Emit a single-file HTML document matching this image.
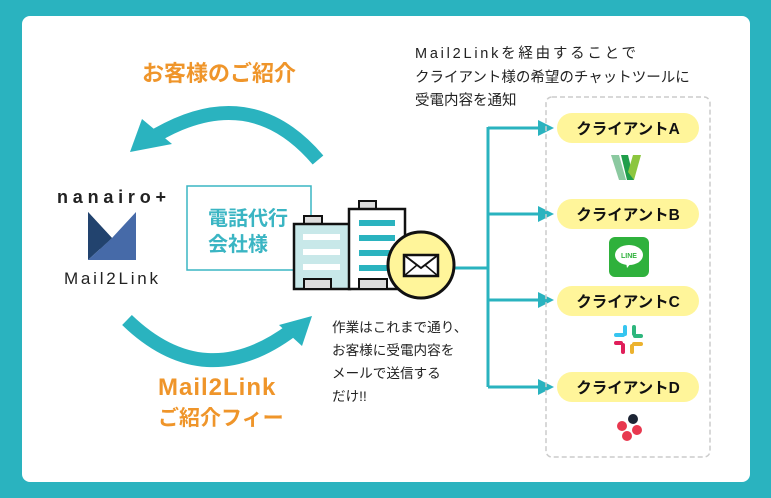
<!DOCTYPE html>
<html><head><meta charset="utf-8"><style>
html,body{margin:0;padding:0;background:#2ab3bf;}
svg{display:block;}
text{font-family:"Liberation Sans","Noto Sans CJK JP",sans-serif;}
</style></head><body>
<svg width="771" height="498" viewBox="0 0 771 498" xmlns="http://www.w3.org/2000/svg">
<rect x="0" y="0" width="771" height="498" fill="#2ab3bf"/>
<rect x="22" y="16" width="728" height="466" rx="8" fill="#fff"/>
<path d="M318,160 Q250,80 155,136" fill="none" stroke="#2ab3bf" stroke-width="14"/>
<polygon points="130,152 142,119 172,144" fill="#2ab3bf"/>
<path d="M127,320 Q205,395 292,330" fill="none" stroke="#2ab3bf" stroke-width="14"/>
<polygon points="312,316 279,325 302,346" fill="#2ab3bf"/>
<text x="142" y="81" font-size="22" font-weight="bold" fill="#ef952a">お客様のご紹介</text>
<text x="158" y="395" font-size="24" font-weight="bold" fill="#ef952a" letter-spacing="1">Mail2Link</text>
<text x="158" y="425" font-size="21" font-weight="bold" fill="#ef952a">ご紹介フィー</text>
<text x="57" y="203" font-size="18" font-weight="bold" fill="#222" textLength="109" lengthAdjust="spacing">nanairo+</text>
<polygon points="88,212 112,238 88,260" fill="#22436e"/>
<polygon points="136,212 136,260 88,260 112,238" fill="#466aa8"/>
<polygon points="88,212 112,238 100,249" fill="#22436e"/>
<text x="64" y="284" font-size="17" fill="#222" textLength="94" lengthAdjust="spacing">Mail2Link</text>
<rect x="187" y="186" width="124" height="84" fill="#fff" stroke="#3ab5c3" stroke-width="1.5"/>
<text x="208" y="225" font-size="20" font-weight="bold" fill="#3ab5c3">電話代行</text>
<text x="208" y="251" font-size="20" font-weight="bold" fill="#3ab5c3">会社様</text>
<rect x="304" y="216" width="18" height="9" fill="#ddd" stroke="#111" stroke-width="2"/>
<rect x="294" y="224" width="56" height="65" fill="#c8e8e9" stroke="#111" stroke-width="2.5"/>
<rect x="303" y="234" width="37" height="6" fill="#fff"/>
<rect x="303" y="249" width="37" height="6" fill="#fff"/>
<rect x="303" y="264" width="37" height="6" fill="#fff"/>
<rect x="304" y="279" width="27" height="10" fill="#ddd" stroke="#111" stroke-width="2"/>
<rect x="359" y="201" width="17" height="9" fill="#ddd" stroke="#111" stroke-width="2"/>
<rect x="349" y="209" width="56" height="80" fill="#fff" stroke="#111" stroke-width="2.5"/>
<rect x="359" y="220" width="36" height="6" fill="#2ab3bf"/>
<rect x="359" y="235" width="36" height="6" fill="#2ab3bf"/>
<rect x="359" y="250" width="36" height="6" fill="#2ab3bf"/>
<rect x="359" y="265" width="36" height="6" fill="#2ab3bf"/>
<rect x="359" y="279" width="28" height="10" fill="#ddd" stroke="#111" stroke-width="2"/>
<polyline points="454,268 488,268" fill="none" stroke="#2ab3bf" stroke-width="3"/>
<line x1="488" y1="127" x2="488" y2="387" stroke="#2ab3bf" stroke-width="3"/>
<g stroke="#2ab3bf" stroke-width="3">
<line x1="488" y1="128" x2="540" y2="128"/><line x1="488" y1="214" x2="540" y2="214"/>
<line x1="488" y1="300" x2="540" y2="300"/><line x1="488" y1="387" x2="540" y2="387"/>
</g>
<g fill="#2ab3bf">
<polygon points="538,120 554,128 538,136"/><polygon points="538,206 554,214 538,222"/>
<polygon points="538,292 554,300 538,308"/><polygon points="538,379 554,387 538,395"/>
</g>
<circle cx="421" cy="265" r="33" fill="#fff59a" stroke="#111" stroke-width="3"/>
<rect x="404" y="255" width="34" height="21" fill="#fff" stroke="#111" stroke-width="2.5"/>
<polyline points="404,255 421,268 438,255" fill="none" stroke="#111" stroke-width="2"/>
<line x1="404" y1="276" x2="417" y2="265" stroke="#111" stroke-width="1.5"/>
<line x1="438" y1="276" x2="425" y2="265" stroke="#111" stroke-width="1.5"/>
<g font-size="14.5" fill="#222">
<text x="415" y="58" textLength="221" lengthAdjust="spacing">Mail2Linkを経由することで</text>
<text x="415" y="82">クライアント様の希望のチャットツールに</text>
<text x="415" y="105">受電内容を通知</text>
</g>
<g font-size="13.6" fill="#222">
<text x="332" y="332">作業はこれまで通り、</text>
<text x="332" y="355">お客様に受電内容を</text>
<text x="332" y="378">メールで送信する</text>
<text x="332" y="401">だけ!!</text>
</g>
<rect x="546" y="97" width="164" height="360" rx="6" fill="none" stroke="#ccc" stroke-width="1.5" stroke-dasharray="5,3"/>
<g fill="#fff59a">
<rect x="557" y="113" width="142" height="30" rx="15"/><rect x="557" y="199" width="142" height="30" rx="15"/>
<rect x="557" y="286" width="142" height="30" rx="15"/><rect x="557" y="372" width="142" height="30" rx="15"/>
</g>
<g font-size="15.5" font-weight="bold" fill="#111" text-anchor="middle">
<text x="628" y="134">クライアントA</text><text x="628" y="220">クライアントB</text>
<text x="628" y="307">クライアントC</text><text x="628" y="393">クライアントD</text>
</g>
<polygon points="611,155 619,155 626,180 619,180" fill="#8bc9a0"/>
<polygon points="621,155 628,155 634,180 627,180" fill="#1f9e4a"/>
<polygon points="633,155 641,155 634,180 628,172" fill="#8cc63f"/>
<rect x="609" y="237" width="40" height="40" rx="6" fill="#2fb13c"/>
<ellipse cx="629" cy="255" rx="14" ry="10" fill="#fff"/>
<polygon points="626,262 632,262 627,268" fill="#fff"/>
<text x="629" y="258" font-size="7" font-weight="bold" fill="#2fb13c" text-anchor="middle">LINE</text>
<g stroke-linecap="round" stroke-width="4">
<line x1="616" y1="335" x2="623" y2="335" stroke="#36c5f0"/><line x1="625" y1="327" x2="625" y2="334" stroke="#36c5f0"/>
<line x1="634" y1="327" x2="634" y2="334" stroke="#2eb67d"/><line x1="635" y1="336" x2="641" y2="336" stroke="#2eb67d"/>
<line x1="634" y1="344" x2="641" y2="344" stroke="#ecb22e"/><line x1="632" y1="346" x2="632" y2="352" stroke="#ecb22e"/>
<line x1="623" y1="345" x2="623" y2="352" stroke="#e01e5a"/><line x1="616" y1="343" x2="621" y2="343" stroke="#e01e5a"/>
</g>
<circle cx="633" cy="419" r="5" fill="#1c2434"/>
<circle cx="622" cy="426" r="5" fill="#e8384f"/><circle cx="637" cy="430" r="5" fill="#e8384f"/><circle cx="627" cy="436" r="5" fill="#e8384f"/>
</svg>
</body></html>
